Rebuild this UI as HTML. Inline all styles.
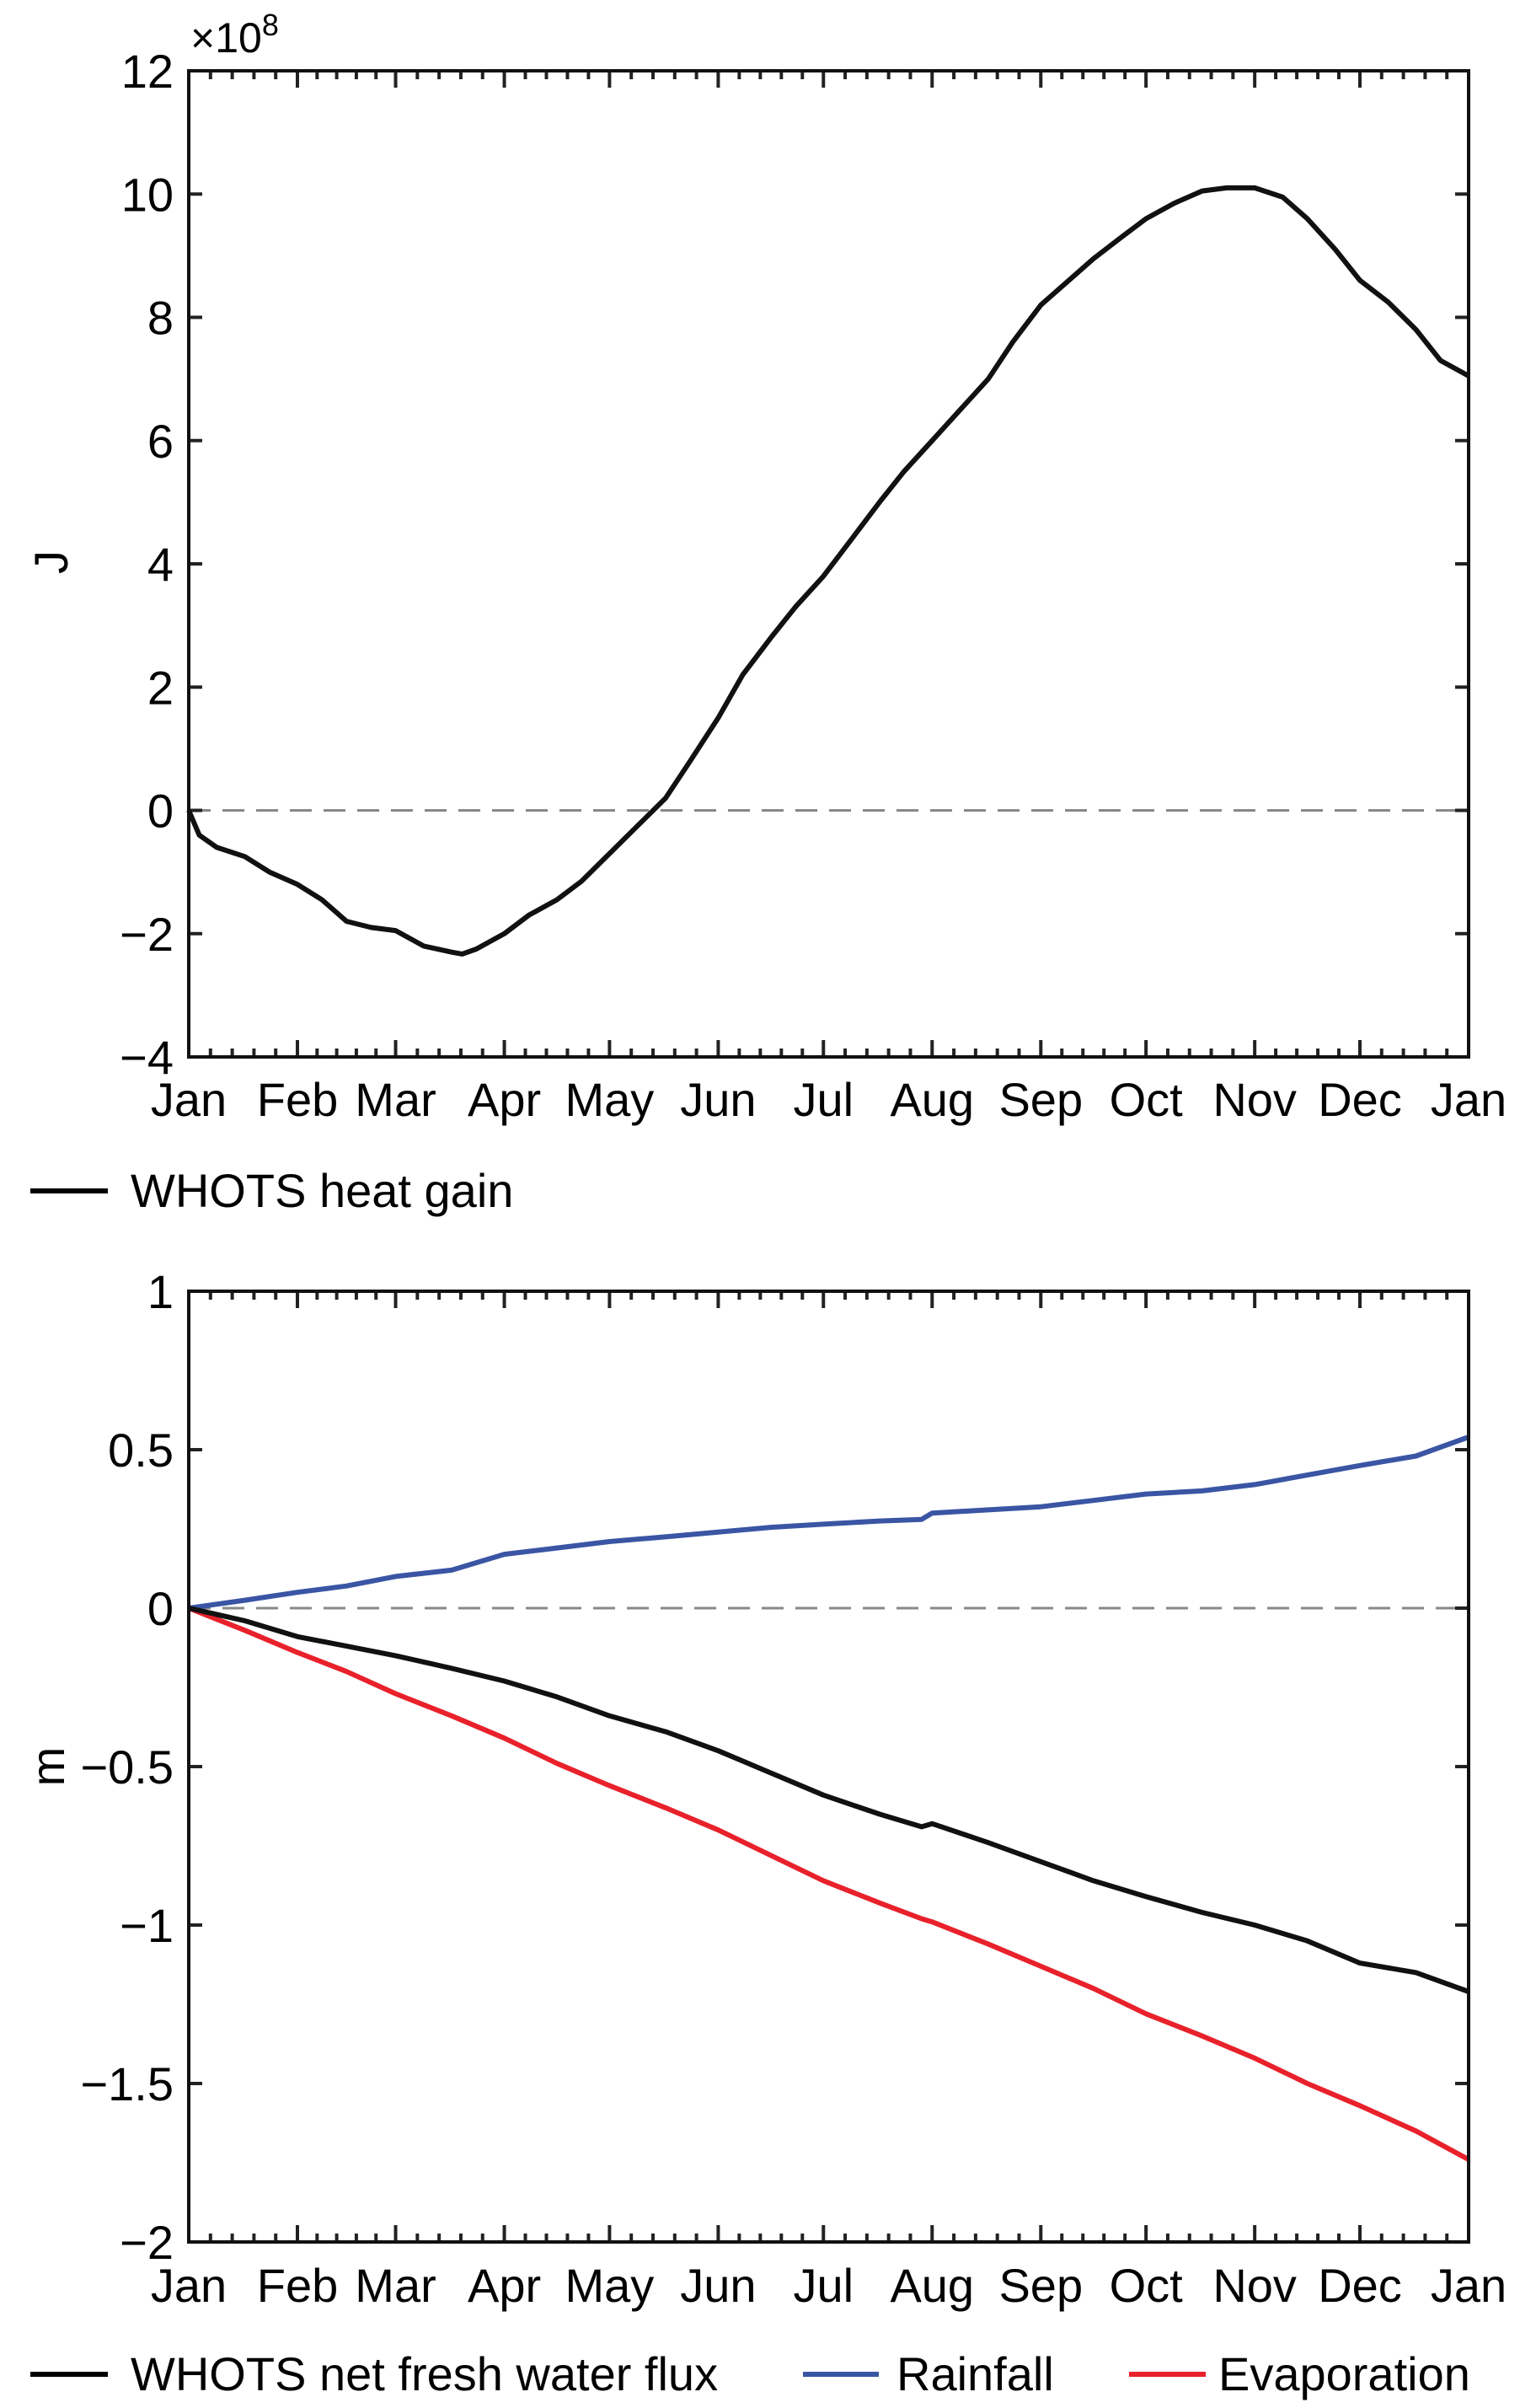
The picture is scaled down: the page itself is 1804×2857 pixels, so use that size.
<!DOCTYPE html>
<html><head><meta charset="utf-8"><style>
html,body{margin:0;padding:0;background:#fff}
svg{display:block}
text{font-family:"Liberation Sans",sans-serif;fill:#000}
</style></head><body>
<svg id="chart" width="1804" height="2857" viewBox="0 0 1804 2857" xmlns="http://www.w3.org/2000/svg">
<g id="top"></g>
<g id="bot"></g>
<text x="0" y="0" font-size="56" transform="translate(80,667) rotate(-90)" text-anchor="middle">J</text>
<text x="226" y="62" font-size="50">×10<tspan font-size="36" dy="-20">8</tspan></text>
<text x="0" y="0" font-size="56" transform="translate(76,2096) rotate(-90)" text-anchor="middle">m</text>
<line x1="36" y1="1413" x2="128" y2="1413" stroke="#000" stroke-width="6"/>
<text x="155" y="1432" font-size="56">WHOTS heat gain</text>
<line x1="36" y1="2817" x2="128" y2="2817" stroke="#000" stroke-width="6"/>
<text x="155" y="2836" font-size="56">WHOTS net fresh water flux</text>
<line x1="953" y1="2817" x2="1043" y2="2817" stroke="#3a55a4" stroke-width="6"/>
<text x="1064" y="2836" font-size="56">Rainfall</text>
<line x1="1340" y1="2817" x2="1431" y2="2817" stroke="#e8212b" stroke-width="6"/>
<text x="1446" y="2836" font-size="56">Evaporation</text>
</svg>
<script>
const monthLabels=["Jan","Feb","Mar","Apr","May","Jun","Jul","Aug","Sep","Oct","Nov","Dec","Jan"];
const monthDays=[0,31,59,90,120,151,181,212,243,273,304,334,365];
const heatTicks=[-4,-2,0,2,4,6,8,10,12];
const heatTickLabels=["\u22124","\u22122","0","2","4","6","8","10","12"];
const heatDays=[0,3,8,16,23,31,38,45,52,59,67,75,78,82,90,97,105,112,120,128,136,143,151,158,166,173,181,189,197,204,212,220,228,235,243,251,258,266,273,281,289,296,304,312,319,327,334,342,350,357,365];
const heatGain=[0,-0.4,-0.6,-0.75,-1.0,-1.2,-1.45,-1.8,-1.9,-1.95,-2.2,-2.3,-2.33,-2.25,-2.0,-1.7,-1.45,-1.15,-0.7,-0.25,0.2,0.8,1.5,2.2,2.8,3.3,3.8,4.4,5.0,5.5,6.0,6.5,7.0,7.6,8.2,8.6,8.95,9.3,9.6,9.85,10.05,10.1,10.1,9.95,9.6,9.1,8.6,8.25,7.8,7.3,7.05];
const fluxTicks=[-2,-1.5,-1,-0.5,0,0.5,1];
const fluxTickLabels=["\u22122","\u22121.5","\u22121","\u22120.5","0","0.5","1"];
const fluxDays=[0,16,31,45,59,75,90,105,120,136,151,166,181,197,209,212,228,243,258,273,289,304,319,334,350,365];
const rainfall=[0,0.025,0.05,0.07,0.1,0.12,0.17,0.19,0.21,0.225,0.24,0.255,0.265,0.275,0.28,0.30,0.31,0.32,0.34,0.36,0.37,0.39,0.42,0.45,0.48,0.54];
const netFlux=[0,-0.04,-0.09,-0.12,-0.15,-0.19,-0.23,-0.28,-0.34,-0.39,-0.45,-0.52,-0.59,-0.65,-0.69,-0.68,-0.74,-0.8,-0.86,-0.91,-0.96,-1.0,-1.05,-1.12,-1.15,-1.21];
const evaporation=[0,-0.07,-0.14,-0.2,-0.27,-0.34,-0.41,-0.49,-0.56,-0.63,-0.70,-0.78,-0.86,-0.93,-0.98,-0.99,-1.06,-1.13,-1.2,-1.28,-1.35,-1.42,-1.5,-1.57,-1.65,-1.74];

const NS="http://www.w3.org/2000/svg";
function mk(tag,attrs,parent){const e=document.createElementNS(NS,tag);for(const k in attrs)e.setAttribute(k,attrs[k]);parent.appendChild(e);return e;}
const L=224,R=1743;
function xs(d){return L+(d/365)*(R-L);}
function panel(g,T,B,ymin,ymax,ticks,tickLabels,labelY,prefix){
  const ys=v=>B-(v-ymin)/(ymax-ymin)*(B-T);
  const z=mk('line',{x1:L,x2:R,y1:ys(0),y2:ys(0),stroke:'#888','stroke-width':3,'stroke-dasharray':'26 14'},g);
  
  
  for(let m=0;m<12;m++){
    const a=monthDays[m],b=monthDays[m+1];
    for(let k=0;k<5;k++){
      const d=a+(b-a)*k/5, x=xs(d), len=k===0?20:10;
      if(m===0&&k===0)continue;
      const t1=mk('line',{x1:x,x2:x,y1:B,y2:B-len,stroke:'#222','stroke-width':4},g);
      
      
      const t2=mk('line',{x1:x,x2:x,y1:T,y2:T+len,stroke:'#222','stroke-width':4},g);
      
      
    }
  }
  monthLabels.forEach((s,i)=>{
    const t=mk('text',{x:xs(monthDays[i]),y:labelY,'font-size':56,'text-anchor':'middle'},g);
    t.textContent=s;
    
    
  });
  ticks.forEach((v,i)=>{
    const y=ys(v);
    const a=mk('line',{x1:L,x2:L+16,y1:y,y2:y,stroke:'#222','stroke-width':4},g);
    
    
    const b=mk('line',{x1:R,x2:R-16,y1:y,y2:y,stroke:'#222','stroke-width':4},g);
    
    
    const t=mk('text',{x:206,y:y+20,'font-size':56,'text-anchor':'end'},g);
    t.textContent=tickLabels[i];
    
    
  });
  return ys;
}
function series(g,days,vals,ys,color,name){
  const p=mk('path',{d:days.map((d,i)=>(i?'L':'M')+xs(d).toFixed(1)+' '+ys(vals[i]).toFixed(1)).join(' '),fill:'none',stroke:color,'stroke-width':6,'stroke-linejoin':'round'},g);
  
  
}
function frame(g,T,B,prefix){
  const r=mk('rect',{x:L,y:T,width:R-L,height:B-T,fill:'none',stroke:'#111','stroke-width':4},g);
  
  
}
const gt=document.getElementById('top');
const ysT=panel(gt,84,1254,-4,12,heatTicks,heatTickLabels,1324,'top');
series(gt,heatDays,heatGain,ysT,'#111','heat-gain-line');
frame(gt,84,1254,'top');
const gb=document.getElementById('bot');
const ysB=panel(gb,1532,2660,-2,1,fluxTicks,fluxTickLabels,2731,'bottom');
series(gb,fluxDays,evaporation,ysB,'#e8212b','evaporation-line');
series(gb,fluxDays,rainfall,ysB,'#3a55a4','rainfall-line');
series(gb,fluxDays,netFlux,ysB,'#111','net-flux-line');
frame(gb,1532,2660,'bottom');
</script>
</body></html>
